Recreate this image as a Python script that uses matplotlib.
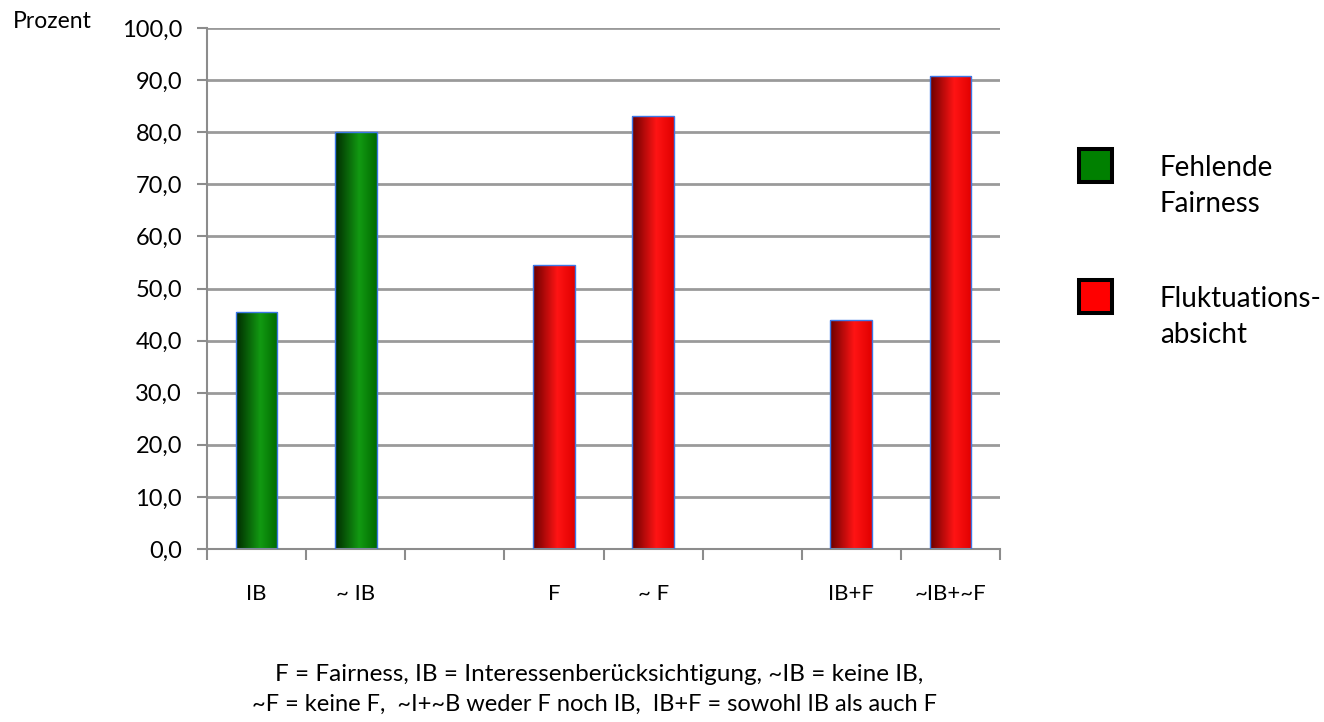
import matplotlib
matplotlib.use("Agg")
import matplotlib.pyplot as plt
import numpy as np
from matplotlib.colors import LinearSegmentedColormap
from matplotlib.patches import Rectangle

categories = ["IB", "~ IB", "", "F", "~ F", "", "IB+F", "~IB+~F"]
values = [45.5, 80.0, None, 54.5, 83.1, None, 44.0, 90.8]
groups = ["green", "green", None, "red", "red", None, "red", "red"]
yticks = [0, 10, 20, 30, 40, 50, 60, 70, 80, 90, 100]
legend_labels = ["Fehlende\nFairness", "Fluktuations-\nabsicht"]
footnote_lines = ["F = Fairness, IB = Interessenberücksichtigung, ~IB = keine IB,",
                  "~F = keine F,  ~I+~B weder F noch IB,  IB+F = sowohl IB als auch F"]

cmaps = {
    "green": LinearSegmentedColormap.from_list("g", [(0, "#002a00"), (0.58, "#129a12"), (1, "#006a00")]),
    "red": LinearSegmentedColormap.from_list("r", [(0, "#6a0000"), (0.58, "#ff1414"), (1, "#e00000")]),
}

plt.rcParams['font.family'] = ['Lato', 'DejaVu Sans']

W, H = 1324, 722
fig = plt.figure(figsize=(W / 100, H / 100), dpi=100)
ax = fig.add_axes([207 / W, 1 - 549 / H, 793 / W, 521 / H])

x = np.arange(len(categories))
grad = np.linspace(0, 1, 256).reshape(1, -1)
for xi, v, g in zip(x, values, groups):
    if v is None:
        continue
    bar = ax.bar(xi, v, width=0.42, color="none", edgecolor="#3c78e8", linewidth=1.0, zorder=3)[0]
    bx, bw = bar.get_x(), bar.get_width()
    im = ax.imshow(grad, cmap=cmaps[g], aspect="auto", extent=(bx, bx + bw, 0, v), zorder=2)
    im.set_clip_path(bar)

ax.set_xlim(-0.5, len(categories) - 0.5)
ax.set_ylim(0, 100)
ax.set_yticks(yticks)
ax.set_yticklabels([f"{t:.1f}".replace(".", ",") for t in yticks], fontsize=17)
ax.set_xticks(np.arange(len(categories) + 1) - 0.5, minor=False)
ax.set_xticklabels([])
ax.set_xticks(x, minor=True)
ax.set_xticklabels(categories, minor=True, fontsize=16)
ax.tick_params(axis="x", which="minor", length=0, pad=25.5)
ax.tick_params(axis="x", which="major", length=8, width=1.5, color="#8c8c8c")
ax.tick_params(axis="y", length=7, width=1.5, color="#8c8c8c", pad=11)

ax.yaxis.grid(True, color="#9a9a9a", linewidth=2, zorder=0)
ax.set_axisbelow(True)
for s in ["top", "right"]:
    ax.spines[s].set_visible(False)
for s in ["left", "bottom"]:
    ax.spines[s].set_color("#8c8c8c")
    ax.spines[s].set_linewidth(1.5)

fig.text(13 / W, 1 - 28 / H, "Prozent", fontsize=16.5, va="baseline", ha="left")

leg_colors = ["#008000", "#ff0000"]
leg_box_top = [149, 280]
leg_baselines = [(176, 212), (307, 343)]
for c, top, lab, bls in zip(leg_colors, leg_box_top, legend_labels, leg_baselines):
    fig.patches.append(Rectangle((1079 / W, 1 - (top + 33) / H), 33 / W, 33 / H,
                                 transform=fig.transFigure, facecolor=c, edgecolor="black", linewidth=2.9))
    for line, bl in zip(lab.split("\n"), bls):
        fig.text(1160 / W, 1 - bl / H, line, fontsize=20, va="baseline", ha="left")

for line, xc, bl, fs in zip(footnote_lines, [599, 594], [681, 711], [17.5, 17]):
    fig.text(xc / W, 1 - bl / H, line, fontsize=fs, ha="center", va="baseline")

fig.savefig("out.png", dpi=100)
